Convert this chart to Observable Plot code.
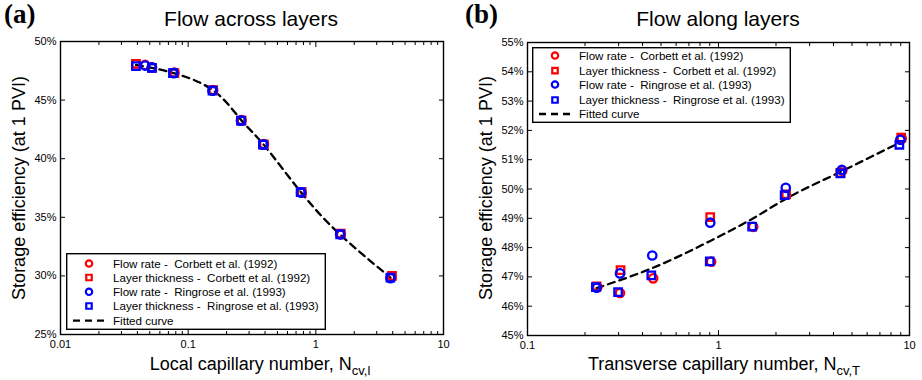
<!DOCTYPE html>
<html>
<head>
<meta charset="utf-8">
<script src="https://cdn.jsdelivr.net/npm/d3@7"></script>
<script src="https://cdn.jsdelivr.net/npm/@observablehq/plot@0.6"></script>
<style>
  body { margin: 0; background: #fff; }
  #fig { position: relative; width: 922px; height: 380px; font-family: "Liberation Sans", Arial, sans-serif; color: #000; overflow: hidden; }
  .panel { position: absolute; top: 0; }
  .tag { position: absolute; font-family: "Liberation Serif", serif; font-weight: bold; font-size: 27px; line-height: 1; }
  .title { position: absolute; font-size: 21px; line-height: 1; transform: translateX(-50%); white-space: nowrap; }
  .xlabel { position: absolute; font-size: 18px; line-height: 1; transform: translateX(-50%); white-space: nowrap; }
  .xlabel sub { font-size: 13px; vertical-align: -5px; line-height: 0; }
  .ylabel { position: absolute; font-size: 18px; line-height: 1; transform: translate(-50%, -50%) rotate(-90deg); white-space: nowrap; }
  .legend { position: absolute; overflow: visible; }
</style>
</head>
<body>
<div id="fig"></div>
<script>
// ---- (a) Flow across layers: storage efficiency vs local capillary number ----
const aCorbettRateX = [0.046, 0.052, 0.078, 0.157, 0.262, 0.392, 0.775, 1.57, 3.88];
const aCorbettRateY = [48.0, 47.8, 47.35, 45.85, 43.3, 41.25, 37.1, 33.55, 29.9];
const aCorbettThickX = [0.039, 0.052, 0.078, 0.157, 0.262, 0.392, 0.775, 1.57, 3.95];
const aCorbettThickY = [48.1, 47.75, 47.3, 45.85, 43.25, 41.2, 37.15, 33.6, 30.0];
const aRingroseRateX = [0.046, 0.052, 0.077, 0.155, 0.259, 0.388, 0.767, 1.55, 3.84];
const aRingroseRateY = [47.95, 47.8, 47.3, 45.8, 43.25, 41.2, 37.1, 33.55, 29.8];
const aRingroseThickX = [0.039, 0.052, 0.076, 0.155, 0.259, 0.385, 0.76, 1.55, 3.84];
const aRingroseThickY = [47.9, 47.75, 47.3, 45.8, 43.25, 41.2, 37.15, 33.55, 29.85];
const aFitX = [0.039, 0.052, 0.077, 0.156, 0.26, 0.39, 0.77, 1.56, 3.84];
const aFitY = [48.0, 47.75, 47.3, 45.85, 43.3, 41.2, 37.1, 33.5, 29.85];
const aXTicks = [0.01, 0.1, 1, 10];
const aYTicks = [25, 30, 35, 40, 45, 50];

// ---- (b) Flow along layers: storage efficiency vs transverse capillary number ----
const bCorbettRateX = [0.232, 0.305, 0.455, 0.915, 1.52, 4.45, 9.1];
const bCorbettRateY = [46.65, 46.45, 46.95, 47.52, 48.71, 50.63, 51.72];
const bCorbettThickX = [0.23, 0.307, 0.905, 2.26, 4.35, 9.05];
const bCorbettThickY = [46.68, 47.23, 49.04, 49.82, 50.55, 51.75];
const bRingroseRateX = [0.23, 0.305, 0.45, 0.905, 2.25, 4.42, 8.95];
const bRingroseRateY = [46.63, 47.12, 47.73, 48.85, 50.04, 50.65, 51.68];
const bRingroseThickX = [0.228, 0.298, 0.445, 0.9, 1.5, 2.22, 4.35, 8.85];
const bRingroseThickY = [46.65, 46.48, 47.05, 47.53, 48.72, 49.79, 50.53, 51.51];
const bFitX = [0.23, 0.45, 0.9, 1.5, 2.3, 4.4, 9.0];
const bFitY = [46.62, 47.3, 48.22, 48.98, 49.7, 50.6, 51.6];
const bXTicks = [0.1, 1, 10];
const bYTicks = [45, 46, 47, 48, 49, 50, 51, 52, 53, 54, 55];

const seriesNames = [
  "Flow rate -  Corbett et al. (1992)",
  "Layer thickness -  Corbett et al. (1992)",
  "Flow rate -  Ringrose et al. (1993)",
  "Layer thickness -  Ringrose et al. (1993)",
  "Fitted curve"
];
const RED = "#ff0000", BLUE = "#0000ff";

const zip = (xs, ys) => xs.map((x, i) => ({x, y: ys[i]}));

// minor log ticks 2..9 inside each decade
function minorTicks(lo, hi) {
  const out = [];
  for (let p = Math.log10(lo); p < Math.log10(hi); p++)
    for (let k = 2; k <= 9; k++) out.push(+(k * 10 ** p).toPrecision(3));
  return out;
}

function panel({xDomain, yDomain, xTicks, yTicks, series, fit, curve, margin}) {
  const blank = () => "";
  const dotOpts = (stroke, symbol) => ({x: "x", y: "y", stroke, symbol, r: 4.2, strokeWidth: 2.3, fill: "none"});
  return Plot.plot({
    width: 461, height: 380,
    marginLeft: margin[0], marginRight: margin[1], marginTop: margin[2], marginBottom: margin[3],
    x: {type: "log", domain: xDomain},
    y: {domain: yDomain},
    style: {fontFamily: "'Liberation Sans', Arial, sans-serif", fontSize: "11px", color: "#000", background: "transparent", overflow: "visible"},
    marks: [
      Plot.axisX({anchor: "bottom", ticks: xTicks, tickSize: -5, tickPadding: 11, tickFormat: d => String(d), label: null}),
      Plot.axisX({anchor: "top", ticks: xTicks, tickSize: -5, tickFormat: blank, label: null}),
      Plot.axisX({anchor: "bottom", ticks: minorTicks(xDomain[0], xDomain[1]), tickSize: -3, tickFormat: blank, label: null}),
      Plot.axisX({anchor: "top", ticks: minorTicks(xDomain[0], xDomain[1]), tickSize: -3, tickFormat: blank, label: null}),
      Plot.axisY({anchor: "left", ticks: yTicks, tickSize: -5, tickPadding: 9, tickFormat: d => d + "%", label: null}),
      Plot.axisY({anchor: "right", ticks: yTicks, tickSize: -5, tickFormat: blank, label: null}),
      Plot.line(fit, {x: "x", y: "y", stroke: "#000", strokeWidth: 2.3, strokeDasharray: "7,5", curve}),
      Plot.dot(series[0], dotOpts(RED, "circle")),
      Plot.dot(series[1], dotOpts(RED, "square")),
      Plot.dot(series[2], dotOpts(BLUE, "circle")),
      Plot.dot(series[3], dotOpts(BLUE, "square")),
      Plot.frame({stroke: "#000", strokeWidth: 1.4})
    ]
  });
}

// legend box drawn with d3 in page coordinates
function legend(parent, left, top, w, h, rowY) {
  const svg = d3.select(parent).append("svg")
    .attr("class", "legend").attr("width", w).attr("height", h)
    .style("left", left + "px").style("top", top + "px");
  svg.append("rect").attr("x", 0.7).attr("y", 0.7).attr("width", w - 1.4).attr("height", h - 1.4)
    .attr("fill", "#fff").attr("stroke", "#000").attr("stroke-width", 1.4);
  const markers = [
    {stroke: RED, symbol: d3.symbolCircle}, {stroke: RED, symbol: d3.symbolSquare},
    {stroke: BLUE, symbol: d3.symbolCircle}, {stroke: BLUE, symbol: d3.symbolSquare}
  ];
  seriesNames.forEach((name, i) => {
    const y = rowY[i];
    if (i < 4) {
      svg.append("path").attr("transform", `translate(${23},${y})`)
        .attr("d", d3.symbol(markers[i].symbol, markers[i].symbol === d3.symbolCircle ? 32 : 30)())
        .attr("fill", "none").attr("stroke", markers[i].stroke).attr("stroke-width", 2.2);
    } else {
      svg.append("line").attr("x1", 7).attr("x2", 41).attr("y1", y).attr("y2", y)
        .attr("stroke", "#000").attr("stroke-width", 2.3).attr("stroke-dasharray", "7,5");
    }
    svg.append("text").attr("x", 47).attr("y", y).attr("dy", "0.35em")
      .attr("font-size", 11.6).attr("font-family", "'Liberation Sans', Arial, sans-serif")
      .style("white-space", "pre").text(name);
  });
}

const fig = document.getElementById("fig");

function addDiv(cls, html, left, top) {
  const d = document.createElement("div");
  d.className = cls; d.innerHTML = html;
  d.style.left = left + "px"; d.style.top = top + "px";
  fig.appendChild(d);
  return d;
}

const plotA = panel({
  xDomain: [0.01, 10], yDomain: [25, 50], xTicks: aXTicks, yTicks: aYTicks,
  series: [zip(aCorbettRateX, aCorbettRateY), zip(aCorbettThickX, aCorbettThickY),
           zip(aRingroseRateX, aRingroseRateY), zip(aRingroseThickX, aRingroseThickY)],
  fit: zip(aFitX, aFitY), curve: "natural",
  margin: [60, 18, 41, 46]
});
plotA.classList.add("panel"); plotA.style.left = "0px";
fig.appendChild(plotA);

const plotB = panel({
  xDomain: [0.1, 10], yDomain: [45, 55], xTicks: bXTicks, yTicks: bYTicks,
  series: [zip(bCorbettRateX, bCorbettRateY), zip(bCorbettThickX, bCorbettThickY),
           zip(bRingroseRateX, bRingroseRateY), zip(bRingroseThickX, bRingroseThickY)],
  fit: zip(bFitX, bFitY), curve: "monotone-x",
  margin: [66, 13, 42, 45]
});
plotB.classList.add("panel"); plotB.style.left = "461px";
fig.appendChild(plotB);

legend(fig, 66, 253, 260, 77, [10.5, 24.5, 38.8, 53, 67.7]);
legend(fig, 532, 47, 259, 76, [8.5, 23.7, 37.5, 53, 67]);

addDiv("tag", "(a)", 4, 1);
addDiv("tag", "(b)", 465, 1);
addDiv("title", "Flow across layers", 251, 8);
addDiv("title", "Flow along layers", 718, 8);
addDiv("xlabel", "Local capillary number, N<sub>cv,l</sub>", 260, 355);
addDiv("xlabel", "Transverse capillary number, N<sub>cv,T</sub>", 724, 355);
addDiv("ylabel", "Storage efficiency (at 1 PVI)", 19, 188);
addDiv("ylabel", "Storage efficiency (at 1 PVI)", 486, 188);
</script>
</body>
</html>
